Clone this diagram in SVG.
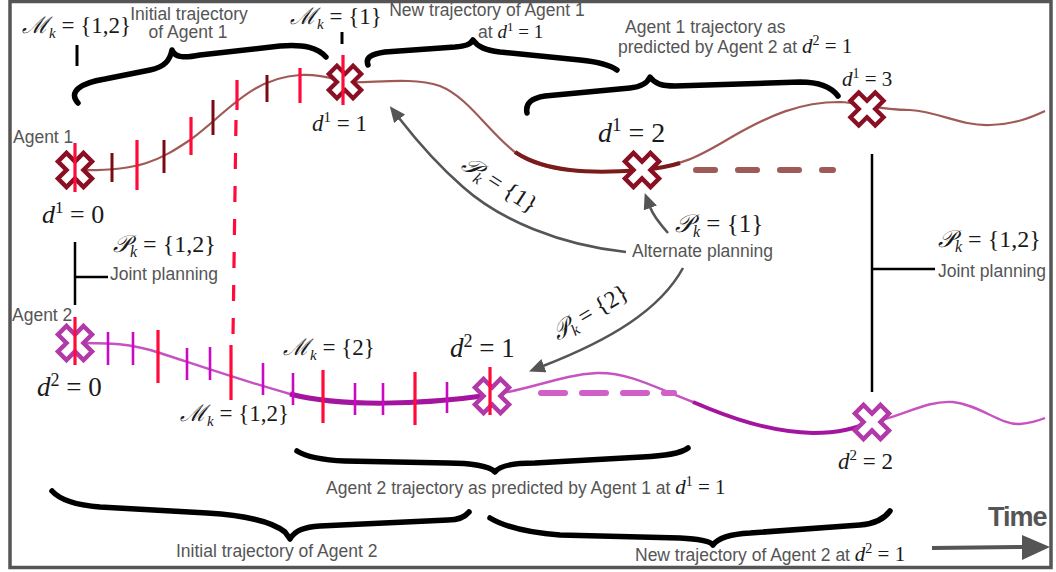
<svg xmlns="http://www.w3.org/2000/svg" width="1056" height="572" viewBox="0 0 1056 572">
<style>
.lbl{font-family:"Liberation Sans",Arial,sans-serif;font-size:17.5px;fill:#555}
.m{font-family:"Liberation Serif","DejaVu Serif",serif;fill:#1a1a1a}
.i{font-style:italic}
.brace{fill:none;stroke:#000;stroke-width:5.5;stroke-linecap:round;stroke-linejoin:round}
.a1{fill:none;stroke:#a05a56;stroke-width:2.2}
.a1t{fill:none;stroke:#7a1c1c;stroke-width:4}
.a2{fill:none;stroke:#c653c2;stroke-width:2.4}
.a2t{fill:none;stroke:#a3149f;stroke-width:5}
.d1{fill:none;stroke:#9e5a56;stroke-width:6;stroke-linecap:round;stroke-dasharray:19 23}
.d2{fill:none;stroke:#d060c8;stroke-width:6;stroke-linecap:round;stroke-dasharray:24 17}
.tr{stroke:#ff0a3a;stroke-width:3.2}
.td{stroke:#7b0a12;stroke-width:3}
.tm{stroke:#c80ac2;stroke-width:2.6}
.x1{fill:#fff;stroke:#8a0f22;stroke-width:4.5}
.x2{fill:#fff;stroke:#b23aa8;stroke-width:4.5}
.arr{fill:none;stroke:#555;stroke-width:2.6}
.con{fill:none;stroke:#000;stroke-width:2.5}
</style>
<defs>
<path id="xm" d="M8.5,-17 L17,-8.5 L8.5,0 L17,8.5 L8.5,17 L0,8.5 L-8.5,17 L-17,8.5 L-8.5,0 L-17,-8.5 L-8.5,-17 L0,-8.5 Z"/>
<marker id="ah" markerUnits="userSpaceOnUse" markerWidth="17" markerHeight="15" refX="1" refY="7" orient="auto"><path d="M0,0 L16,7 L0,14 Z" fill="#555"/></marker>
</defs>

<rect x="10" y="1.5" width="1041" height="566" fill="#fff" stroke="#555" stroke-width="3.5"/>

<g id="agent1-trajectory">
<path class="a1" d="M75,170 C140,172 160,160 190,140 C225,115 250,78 300,75 C325,74 335,80 345,82 C370,84 410,76 440,86 C470,98 490,135 520,156 C545,172 590,174 640,170 C680,167 700,156 730,138 C770,115 800,102 840,102 C860,103 880,110 910,110 C940,112 960,126 990,125 C1015,124 1030,118 1045,111"/>
<path class="a1t" d="M515,152 C545,172 590,174 640,170 Q665,168 680,163"/>
<path class="d1" d="M696,170 H833"/>
</g>

<g id="agent2-trajectory">
<path class="a2" d="M75,343 C110,343 130,343 160,353 C200,366 240,380 290,394 C340,407 420,405 490,395 C530,390 560,375 597,373 C630,372 660,390 693,402 C730,418 770,432 813,433 C840,433 855,428 872,422 C900,418 925,400 953,402 C980,405 1000,425 1020,424 C1030,423 1040,420 1045,418"/>
<path class="a2t" d="M290,394 C340,407 420,405 490,395"/>
<path class="a2t" style="stroke-width:4" d="M693,402 C730,418 770,432 813,433 C840,433 855,428 872,422"/>
<path class="d2" d="M541,393 H674"/>
</g>

<g id="markers">
<use href="#xm" class="x1" transform="translate(75,170)"/>
<use href="#xm" class="x1" transform="translate(345,82) scale(0.95)"/>
<use href="#xm" class="x1" transform="translate(642,170)"/>
<use href="#xm" class="x1" transform="translate(867,109) scale(0.97)"/>
<use href="#xm" class="x2" transform="translate(75,343)"/>
<use href="#xm" class="x2" transform="translate(492,396)"/>
<use href="#xm" class="x2" transform="translate(872,422)"/>
</g>

<g id="ticks">
<line class="tr" x1="75" y1="143" x2="75" y2="192"/>
<line class="td" x1="112" y1="153" x2="112" y2="182"/>
<line class="tr" x1="137" y1="140" x2="137" y2="190"/>
<line class="td" x1="164" y1="140" x2="164" y2="173"/>
<line class="tr" x1="191" y1="117" x2="191" y2="155"/>
<line class="td" x1="213" y1="100" x2="213" y2="135"/>
<line class="tr" x1="237" y1="80" x2="237" y2="110"/>
<line class="td" x1="267" y1="75" x2="267" y2="102"/>
<line class="tr" x1="300" y1="68" x2="300" y2="103"/>
<line class="tr" x1="343" y1="55" x2="343" y2="105"/>
<line class="tr" x1="236" y1="120" x2="233" y2="336" stroke-dasharray="16 17"/>
<line class="tr" x1="75" y1="317" x2="75" y2="365"/>
<line class="tm" x1="108" y1="332" x2="108" y2="365"/>
<line class="tm" x1="133" y1="332" x2="133" y2="365"/>
<line class="tr" x1="158" y1="330" x2="158" y2="383"/>
<line class="tm" x1="187" y1="348" x2="187" y2="380"/>
<line class="tm" x1="210" y1="347" x2="210" y2="380"/>
<line class="tr" x1="231" y1="345" x2="231" y2="400"/>
<line class="tm" x1="263" y1="363" x2="263" y2="395"/>
<line class="tm" x1="293" y1="373" x2="293" y2="405"/>
<line class="tr" x1="323" y1="370" x2="323" y2="423"/>
<line class="tm" x1="355" y1="383" x2="355" y2="415"/>
<line class="tm" x1="383" y1="383" x2="383" y2="415"/>
<line class="tr" x1="415" y1="372" x2="415" y2="425"/>
<line class="tm" x1="447" y1="382" x2="447" y2="413"/>
<line class="tr" x1="490" y1="367" x2="490" y2="415"/>
</g>

<g id="braces">
<path class="brace" d="M78,103 C68,92 80,83 105,79 L150,70 C165,67 170,60 172,50 C175,58 185,58 200,55 L280,46 C305,44 318,48 326,57"/>
<path class="brace" d="M368,65 C365,57 372,54 385,52 L455,47 C465,46 470,45 473,40 C478,47 485,50 500,52 L580,60 C600,62 610,65 617,70"/>
<path class="brace" d="M527,113 C525,103 532,98 545,96 L630,88 C640,87 647,84 650,77 C655,84 662,86 675,86 L800,82 C820,82 832,88 838,96"/>
<path class="brace" d="M297,451 C305,456 320,460 345,461 L448,463 C470,463 490,466 495,472 C500,465 515,463 535,463 L642,457 C665,456 680,454 688,448"/>
<path class="brace" d="M52,491 C60,500 75,505 100,507 L207,513 C240,515 270,520 285,532 L290,539 C295,530 305,527 320,526 L448,520 C458,520 465,517 469,512"/>
<path class="brace" d="M490,518 C500,524 520,532 560,535 L680,538 C700,539 710,541 713,545 C718,538 730,534 750,533 L860,525 C875,524 884,519 890,511"/>
</g>

<g id="connectors">
<line class="con" x1="77" y1="45" x2="77" y2="66" style="stroke-width:3"/>
<line class="con" x1="342" y1="32" x2="342" y2="44" style="stroke-width:3"/>
<path class="con" d="M75,242 V305 M75,277 H108"/>
<path class="con" d="M872,154 V392 M872,269 H935"/>
<path class="arr" marker-end="url(#ah)" d="M626,252 C560,245 500,220 463,187 C440,167 420,145 399,118"/>
<path class="arr" marker-end="url(#ah)" d="M668,233 C660,224 653,215 650,207"/>
<path class="arr" marker-end="url(#ah)" d="M683,268 C660,310 610,340 543,366"/>
<line x1="932" y1="548" x2="1024" y2="547" stroke="#555" stroke-width="4"/>
<polygon points="1022,535 1050,547 1022,560" fill="#555"/>
</g>

<g id="labels">
<text class="lbl" x="189" y="20" text-anchor="middle">Initial trajectory</text>
<text class="lbl" x="188" y="38" text-anchor="middle">of Agent 1</text>
<text class="lbl" x="487" y="16" text-anchor="middle">New trajectory of Agent 1</text>
<text class="lbl" x="478" y="38">at <tspan class="m" font-size="19"><tspan class="i">d</tspan><tspan dy="-7" font-size="13">1</tspan><tspan dy="7"> = 1</tspan></tspan></text>
<text class="lbl" x="625" y="33">Agent 1 trajectory as</text>
<text class="lbl" x="618" y="53">predicted by Agent 2 at <tspan class="m" font-size="21"><tspan class="i">d</tspan><tspan dy="-8" font-size="14">2</tspan><tspan dy="8"> = 1</tspan></tspan></text>
<text class="lbl" x="13" y="143">Agent 1</text>
<text class="lbl" x="12" y="321">Agent 2</text>
<text class="lbl" x="110" y="280">Joint planning</text>
<text class="lbl" x="938" y="277">Joint planning</text>
<text class="lbl" x="632" y="257">Alternate planning</text>
<text class="lbl" x="326" y="494">Agent 2 trajectory as predicted by Agent 1 at <tspan class="m" font-size="21"><tspan class="i">d</tspan><tspan dy="-8" font-size="14">1</tspan><tspan dy="8"> = 1</tspan></tspan></text>
<text class="lbl" x="176" y="557">Initial trajectory of Agent 2</text>
<text class="lbl" x="635" y="561">New trajectory of Agent 2 at <tspan class="m" font-size="21"><tspan class="i">d</tspan><tspan dy="-8" font-size="14">2</tspan><tspan dy="8"> = 1</tspan></tspan></text>
<text x="988" y="526" font-family="Liberation Sans, Arial, sans-serif" font-size="27" font-weight="bold" fill="#555" letter-spacing="-1">Time</text>

<text class="m" x="42" y="223" font-size="26"><tspan class="i">d</tspan><tspan dy="-10" font-size="17">1</tspan><tspan dy="10"> = 0</tspan></text>
<text class="m" x="37" y="396" font-size="27"><tspan class="i">d</tspan><tspan dy="-10" font-size="18">2</tspan><tspan dy="10"> = 0</tspan></text>
<text class="m" x="312" y="131" font-size="23"><tspan class="i">d</tspan><tspan dy="-9" font-size="15">1</tspan><tspan dy="9"> = 1</tspan></text>
<text class="m" x="598" y="142" font-size="28"><tspan class="i">d</tspan><tspan dy="-11" font-size="19">1</tspan><tspan dy="11"> = 2</tspan></text>
<text class="m" x="842" y="86" font-size="21"><tspan class="i">d</tspan><tspan dy="-8" font-size="14">1</tspan><tspan dy="8"> = 3</tspan></text>
<text class="m" x="450" y="357" font-size="27"><tspan class="i">d</tspan><tspan dy="-10" font-size="18">2</tspan><tspan dy="10"> = 1</tspan></text>
<text class="m" x="838" y="469" font-size="23"><tspan class="i">d</tspan><tspan dy="-9" font-size="15">2</tspan><tspan dy="9"> = 2</tspan></text>

<text class="m" x="22" y="33" font-size="23"><tspan class="i">ℳ</tspan><tspan dy="5" font-size="15" class="i">k</tspan><tspan dy="-5"> = {1,2}</tspan></text>
<text class="m" x="290" y="24" font-size="23"><tspan class="i">ℳ</tspan><tspan dy="5" font-size="15" class="i">k</tspan><tspan dy="-5"> = {1}</tspan></text>
<text class="m" x="283" y="355" font-size="23"><tspan class="i">ℳ</tspan><tspan dy="5" font-size="15" class="i">k</tspan><tspan dy="-5"> = {2}</tspan></text>
<text class="m" x="180" y="421" font-size="23"><tspan class="i">ℳ</tspan><tspan dy="5" font-size="15" class="i">k</tspan><tspan dy="-5"> = {1,2}</tspan></text>
<text class="m" x="113" y="252" font-size="24"><tspan class="i">𝒫</tspan><tspan dy="5" font-size="16" class="i">k</tspan><tspan dy="-5"> = {1,2}</tspan></text>
<text class="m" x="938" y="247" font-size="24"><tspan class="i">𝒫</tspan><tspan dy="5" font-size="16" class="i">k</tspan><tspan dy="-5"> = {1,2}</tspan></text>
<text class="m" x="675" y="232" font-size="25"><tspan class="i">𝒫</tspan><tspan dy="5" font-size="16" class="i">k</tspan><tspan dy="-5"> = {1}</tspan></text>
<text class="m" x="500" y="192" font-size="24" text-anchor="middle" transform="rotate(33 500 184)"><tspan class="i">𝒫</tspan><tspan dy="5" font-size="16" class="i">k</tspan><tspan dy="-5"> = {1}</tspan></text>
<text class="m" x="590" y="320" font-size="24" text-anchor="middle" transform="rotate(-31 590 312)"><tspan class="i">𝒫</tspan><tspan dy="5" font-size="16" class="i">k</tspan><tspan dy="-5"> = {2}</tspan></text>
</g>
</svg>
